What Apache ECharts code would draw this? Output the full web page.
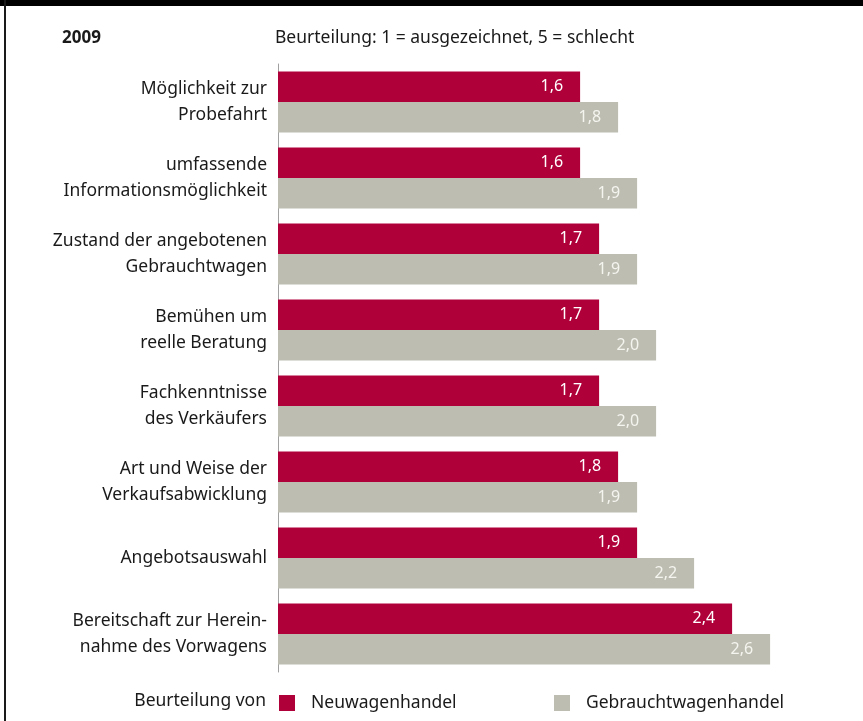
<!DOCTYPE html>
<html>
<head>
<meta charset="utf-8">
<script src="https://cdn.jsdelivr.net/npm/echarts@6/dist/echarts.min.js"></script>
<style>
html,body{margin:0;padding:0;background:#fff;}
#c{width:863px;height:721px;}
</style>
</head>
<body>
<div id="c"></div>
<script>
var categories = [
  "Möglichkeit zur\nProbefahrt",
  "umfassende\nInformationsmöglichkeit",
  "Zustand der angebotenen\nGebrauchtwagen",
  "Bemühen um\nreelle Beratung",
  "Fachkenntnisse\ndes Verkäufers",
  "Art und Weise der\nVerkaufsabwicklung",
  "Angebotsauswahl",
  "Bereitschaft zur Herein-\nnahme des Vorwagens"
];
var neuwagen = [1.6, 1.6, 1.7, 1.7, 1.7, 1.8, 1.9, 2.4];
var gebrauchtwagen = [1.8, 1.9, 1.9, 2.0, 2.0, 1.9, 2.2, 2.6];
var seriesNames = ["Neuwagenhandel", "Gebrauchtwagenhandel"];
var titleText = "2009";
var subtitleText = "Beurteilung: 1 = ausgezeichnet, 5 = schlecht";
var legendLead = "Beurteilung von";

var FONT = "'Noto Sans', sans-serif";
var FS = 17.5;
var RED = "#b0003a";
var GRAY = "#bdbdb1";
var chart = echarts.init(document.getElementById('c'), null, {renderer: 'canvas'});
function fmt(p){ return p.value.toFixed(1).replace('.', ','); }
chart.setOption({
  animation: false,
  backgroundColor: '#fff',
  grid: {left: 278, right: 15, top: 64, bottom: 49, containLabel: false},
  xAxis: {type: 'value', min: 0.01, max: 3.01, show: false},
  yAxis: {
    type: 'category', data: categories, inverse: true,
    axisLine: {show: true, lineStyle: {color: '#a0a0a0', width: 1}},
    axisTick: {show: false},
    axisLabel: {color: '#1a1a1a', fontSize: FS, fontFamily: FONT, lineHeight: 26, margin: 11, align: 'right', padding: [4, 0, 0, 0]}
  },
  legend: [
    {data: [seriesNames[0]], left: 279, top: 694, itemWidth: 16, itemHeight: 16,
     icon: 'rect', textStyle: {fontSize: FS, fontFamily: FONT, color: '#1a1a1a', padding: [0,0,0,11]}, padding: 0},
    {data: [seriesNames[1]], left: 554, top: 694, itemWidth: 16, itemHeight: 16,
     icon: 'rect', textStyle: {fontSize: FS, fontFamily: FONT, color: '#1a1a1a', padding: [0,0,0,11]}, padding: 0}
  ],
  graphic: [
    {type: 'rect', left: 0, top: 0, shape: {width: 863, height: 6}, style: {fill: '#000'}},
    {type: 'rect', left: 4, top: 0, shape: {width: 2, height: 721}, style: {fill: '#1a1a1a'}},
    {type: 'text', left: 62, top: 30, style: {text: titleText, font: "bold 17px 'Noto Sans', sans-serif", fill: '#1a1a1a'}},
    {type: 'text', left: 275, top: 29, style: {text: subtitleText, font: "17.5px 'Noto Sans', sans-serif", fill: '#1a1a1a'}},
    {type: 'text', right: 863 - 266, top: 692, style: {text: legendLead, font: "17.5px 'Noto Sans', sans-serif", fill: '#1a1a1a', align: 'right'}}
  ],
  series: [
    {name: seriesNames[0], type: 'bar', data: neuwagen, barWidth: 30.5, barGap: '0%',
     itemStyle: {color: RED},
     label: {show: true, position: 'insideRight', distance: 17, formatter: fmt, color: '#fff', fontSize: 16, fontFamily: FONT}},
    {name: seriesNames[1], type: 'bar', data: gebrauchtwagen, barWidth: 30.5, barGap: '0%',
     itemStyle: {color: GRAY},
     label: {show: true, position: 'insideRight', distance: 17, formatter: fmt, color: '#f5f5f0', fontSize: 16, fontFamily: FONT}}
  ]
});
</script>
</body>
</html>
